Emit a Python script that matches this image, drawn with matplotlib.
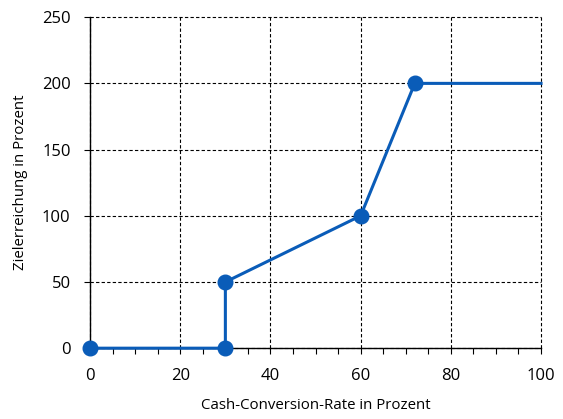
import matplotlib
matplotlib.use("Agg")
import matplotlib.pyplot as plt
from matplotlib.ticker import MultipleLocator

plt.rcParams['font.family'] = ['Open Sans', 'DejaVu Sans']

# Stuetzpunkte der Zielerreichungskurve
ccr = [0, 30, 30, 60, 72, 100]
ziel = [0, 0, 50, 100, 200, 200]
# Punkte mit Markern
ccr_pts = [0, 30, 30, 60, 72]
ziel_pts = [0, 0, 50, 100, 200]

blau = '#0a5cb8'

fig = plt.figure(figsize=(5.63, 4.19), dpi=100)
ax = fig.add_axes([0.160, 0.169, 0.801, 0.790])

ax.plot(ccr, ziel, color=blau, lw=2.2, zorder=3, clip_on=False)
ax.plot(ccr_pts, ziel_pts, 'o', color=blau, ms=10.5, zorder=4, clip_on=False)

ax.set_xlim(0, 100)
ax.set_ylim(0, 250)
ax.xaxis.set_major_locator(MultipleLocator(20))
ax.xaxis.set_minor_locator(MultipleLocator(5))
ax.yaxis.set_major_locator(MultipleLocator(50))

ax.grid(True, which='major', color='black', ls=(0, (3, 2)), lw=0.8)
for gl in ax.get_xgridlines() + ax.get_ygridlines():
    gl.set_clip_on(False)
ax.spines['top'].set_visible(False)
ax.spines['right'].set_visible(False)
ax.spines['left'].set_linewidth(1.0)
ax.spines['bottom'].set_linewidth(1.0)

ax.tick_params(axis='both', which='major', labelsize=12, length=4, width=0.8)
ax.tick_params(axis='x', which='major', pad=10)
ax.tick_params(axis='y', which='major', pad=10)
ax.tick_params(axis='x', which='minor', length=4, width=0.8)
ax.tick_params(axis='y', which='minor', length=0)

ax.set_xlabel('Cash-Conversion-Rate in Prozent', fontsize=10.8, labelpad=10)
ax.set_ylabel('Zielerreichung in Prozent', fontsize=10.8, labelpad=10)

fig.savefig('out.png', dpi=100)
